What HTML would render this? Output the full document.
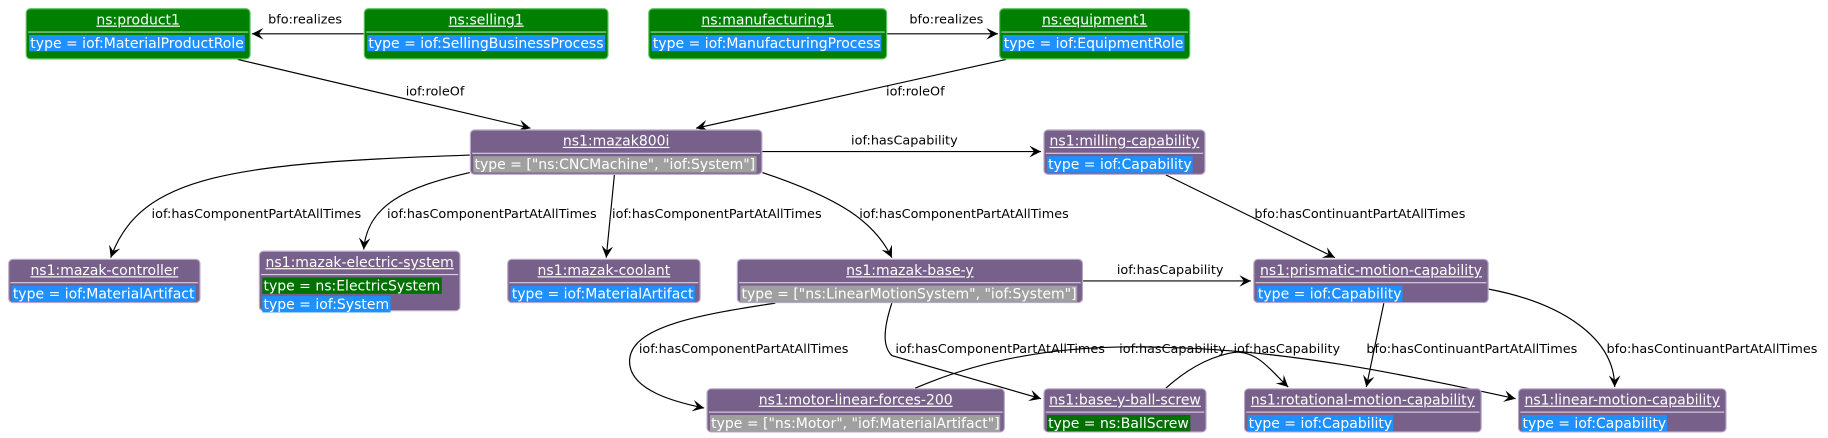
<!DOCTYPE html>
<html><head><meta charset="utf-8"><style>
html,body{margin:0;padding:0;background:#fff;width:1828px;height:438px;overflow:hidden}
#c{position:absolute;left:0;top:0;width:1568px;height:376px;transform:scale(1.16582);transform-origin:0 0;font-family:"DejaVu Sans","Liberation Sans",sans-serif;font-size:12px}
.n{position:absolute;box-sizing:border-box;border-radius:4px;border:1px solid #b8a8c8;color:#fff}
.g{background:#008000;border-color:#5fbf5f}
.p{background:#77608a}
.t{text-align:center;text-decoration:underline;height:19px;line-height:19px;border-bottom:1px solid #d8cce4;margin:0 1px;white-space:nowrap}
.g .t{border-bottom-color:#a0d8a0}
.a{padding:1px 2px 0 2px;white-space:nowrap;line-height:16px}
.a span{padding:0 1px}
.b{background:#1e90ff}.gr{background:#a0a0a0}.gg{background:#007000}
svg{position:absolute;left:0;top:0}
svg text{font-family:"DejaVu Sans","Liberation Sans",sans-serif;font-size:11px;fill:#000}
</style></head><body><div id="c">
<svg width="1568" height="376">
<defs><marker id="ar" markerWidth="12" markerHeight="10" refX="10" refY="5" orient="auto" markerUnits="userSpaceOnUse"><path d="M0,0 L10,5 L0,10 L4,5 Z" fill="#000"/></marker></defs>
<g fill="none" stroke="#000" stroke-width="1" marker-end="url(#ar)">
<path d="M312,29 L216,29"/>
<path d="M761,29 L856,29"/>
<path d="M204,51 L455,110"/>
<path d="M863,51 L597,110"/>
<path d="M654,130 L893,130"/>
<path d="M403,133 C200,140 120,150 95,221"/>
<path d="M403,148 C350,160 315,175 312,214"/>
<path d="M527,150 L520,221"/>
<path d="M654,148 C720,170 750,190 765,221"/>
<path d="M1000,150 L1145,221"/>
<path d="M929,241 L1073,241"/>
<path d="M665,260 C600,270 540,280 540,310 C540,335 580,345 604,350"/>
<path d="M765,260 C755,290 760,300 765,305 L893,342"/>
<path d="M785,333 C850,305 920,295 1000,298 C1100,300 1200,320 1300,342"/>
<path d="M1000,333 C1020,315 1040,305 1060,302 C1080,302 1090,318 1105,332"/>
<path d="M1187,260 L1172,332"/>
<path d="M1277,248 C1340,260 1385,290 1385,332"/>
</g>
<text x="230" y="20">bfo:realizes</text>
<text x="780" y="20">bfo:realizes</text>
<text x="348" y="82">iof:roleOf</text>
<text x="760" y="82">iof:roleOf</text>
<text x="730" y="124">iof:hasCapability</text>
<text x="130" y="187">iof:hasComponentPartAtAllTimes</text>
<text x="332" y="187">iof:hasComponentPartAtAllTimes</text>
<text x="525" y="187">iof:hasComponentPartAtAllTimes</text>
<text x="737" y="187">iof:hasComponentPartAtAllTimes</text>
<text x="1076" y="187">bfo:hasContinuantPartAtAllTimes</text>
<text x="958" y="235">iof:hasCapability</text>
<text x="548" y="303">iof:hasComponentPartAtAllTimes</text>
<text x="768" y="303">iof:hasComponentPartAtAllTimes</text>
<text x="960" y="303">iof:hasCapability</text>
<text x="1058" y="303">iof:hasCapability</text>
<text x="1172" y="303">bfo:hasContinuantPartAtAllTimes</text>
<text x="1378" y="303">bfo:hasContinuantPartAtAllTimes</text>
</svg>
<div class="n g" style="left:22px;top:7px;width:193px;height:44px"><div class="t">ns:product1</div><div class="a"><span class="b">type = iof:MaterialProductRole</span></div></div>
<div class="n g" style="left:312px;top:7px;width:210px;height:44px"><div class="t">ns:selling1</div><div class="a"><span class="b">type = iof:SellingBusinessProcess</span></div></div>
<div class="n g" style="left:556px;top:7px;width:205px;height:44px"><div class="t">ns:manufacturing1</div><div class="a"><span class="b">type = iof:ManufacturingProcess</span></div></div>
<div class="n g" style="left:857px;top:7px;width:164px;height:44px"><div class="t">ns:equipment1</div><div class="a"><span class="b">type = iof:EquipmentRole</span></div></div>
<div class="n p" style="left:403px;top:111px;width:251px;height:39px"><div class="t">ns1:mazak800i</div><div class="a"><span class="gr">type = ["ns:CNCMachine", "iof:System"]</span></div></div>
<div class="n p" style="left:895px;top:111px;width:139px;height:39px"><div class="t">ns1:milling-capability</div><div class="a"><span class="b">type = iof:Capability</span></div></div>
<div class="n p" style="left:7px;top:222px;width:165px;height:38px"><div class="t">ns1:mazak-controller</div><div class="a"><span class="b">type = iof:MaterialArtifact</span></div></div>
<div class="n p" style="left:222px;top:215px;width:173px;height:52px"><div class="t">ns1:mazak-electric-system</div><div class="a"><span class="gg">type = ns:ElectricSystem</span><br><span class="b">type = iof:System</span></div></div>
<div class="n p" style="left:435px;top:222px;width:166px;height:38px"><div class="t">ns1:mazak-coolant</div><div class="a"><span class="b">type = iof:MaterialArtifact</span></div></div>
<div class="n p" style="left:632px;top:222px;width:297px;height:38px"><div class="t">ns1:mazak-base-y</div><div class="a"><span class="gr">type = ["ns:LinearMotionSystem", "iof:System"]</span></div></div>
<div class="n p" style="left:1075px;top:222px;width:202px;height:38px"><div class="t">ns1:prismatic-motion-capability</div><div class="a"><span class="b">type = iof:Capability</span></div></div>
<div class="n p" style="left:606px;top:333px;width:256px;height:38px"><div class="t">ns1:motor-linear-forces-200</div><div class="a"><span class="gr">type = ["ns:Motor", "iof:MaterialArtifact"]</span></div></div>
<div class="n p" style="left:895px;top:333px;width:140px;height:38px"><div class="t">ns1:base-y-ball-screw</div><div class="a"><span class="gg">type = ns:BallScrew</span></div></div>
<div class="n p" style="left:1067px;top:333px;width:204px;height:38px"><div class="t">ns1:rotational-motion-capability</div><div class="a"><span class="b">type = iof:Capability</span></div></div>
<div class="n p" style="left:1302px;top:333px;width:179px;height:38px"><div class="t">ns1:linear-motion-capability</div><div class="a"><span class="b">type = iof:Capability</span></div></div>
</div></body></html>
